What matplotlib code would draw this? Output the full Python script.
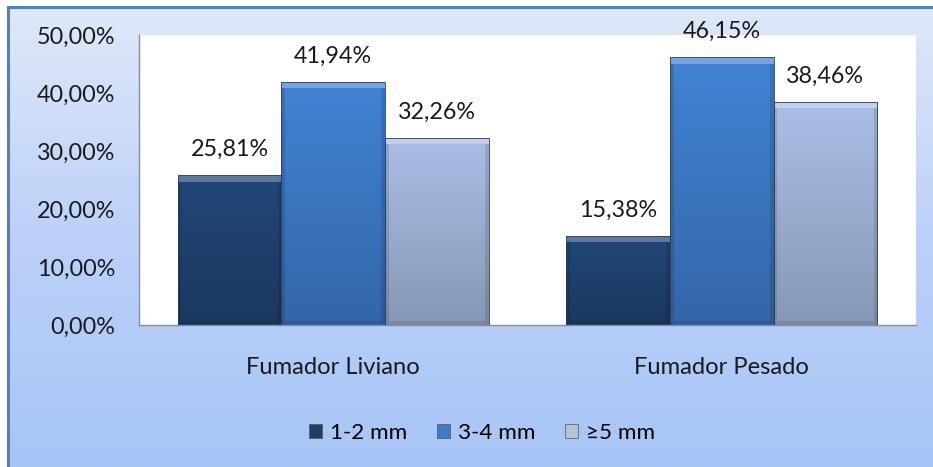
"""
Tamaño de lesión por tipo de fumador: barras agrupadas estilo Excel
"""
import numpy as np
import matplotlib
matplotlib.use("Agg")
import matplotlib.pyplot as plt
from matplotlib.colors import LinearSegmentedColormap
from matplotlib.patches import Rectangle, Patch

categories = ["Fumador Liviano", "Fumador Pesado"]
series_names = ["1-2 mm", "3-4 mm", "\u22655 mm"]
values = {
    "1-2 mm": [25.81, 15.38],
    "3-4 mm": [41.94, 46.15],
    "\u22655 mm": [32.26, 38.46],
}
yticks = [0, 10, 20, 30, 40, 50]

# (top colour, bottom colour) for each series
shades = [("#22477a", "#1b385e"), ("#4283d4", "#3466a8"), ("#abbfe6", "#8797b5")]
legend_colors = ["#1f3e66", "#3d7cc9", "#b4c2dc"]

plt.rcParams["font.family"] = ["Lato", "DejaVu Sans"]

W, H = 933, 467
fig = plt.figure(figsize=(W / 100, H / 100), dpi=100)
fig.patch.set_facecolor("white")


def fit_size(text, target_px):
    # font size that gives the text the wanted width in pixels
    t = fig.text(0, 0, text, fontsize=10)
    w = t.get_window_extent(fig.canvas.get_renderer()).width
    t.remove()
    return 10 * target_px / w


FS_NUM = fit_size("50,00%", 78)
FS_CAT = fit_size("Fumador Liviano", 174)
FS_LEG = fit_size("1-2 mm", 77)

# outer chart area with vertical gradient and blue frame
bg = fig.add_axes([8 / W, 0, 1 - 8 / W, 1 - 7 / H], zorder=0)
grad = np.linspace(0, 1, 256).reshape(-1, 1)
bg_cmap = LinearSegmentedColormap.from_list("bg", ["#dfe8f9", "#bcd1f8", "#a8c5f7"])
bg.imshow(grad, cmap=bg_cmap, aspect="auto", extent=[0, 1, 0, 1], origin="upper")
bg.set_xlim(0, 1)
bg.set_ylim(0, 1)
bg.set_xticks([])
bg.set_yticks([])
for side in ["left", "top"]:
    bg.spines[side].set_color("#4f81bd")
    bg.spines[side].set_linewidth(2.2)
for side in ["right", "bottom"]:
    bg.spines[side].set_visible(False)

ax = fig.add_axes([139 / W, (H - 325) / H, (916 - 139) / W, 290 / H], zorder=1)
ax.set_facecolor("white")

x = np.arange(len(categories))
bw = 0.8 / 3
for i, name in enumerate(series_names):
    top_c, bot_c = shades[i]
    cmap = LinearSegmentedColormap.from_list(name, [top_c, bot_c])
    bars = ax.bar(x + (i - 1) * bw, values[name], width=bw, color="none",
                  edgecolor="#2b3f5c", linewidth=0.6, zorder=3)
    for b, v in zip(bars, values[name]):
        x0, w = b.get_x(), b.get_width()
        im = ax.imshow(grad, cmap=cmap, aspect="auto", origin="upper",
                       extent=[x0, x0 + w, 0, v], zorder=2)
        im.set_clip_path(b)
        # bevel: light top strip, darker sides and bottom
        ax.add_patch(Rectangle((x0, v - 1.1), w, 1.1,
                               color="white", alpha=0.28, lw=0, zorder=2.5))
        ax.add_patch(Rectangle((x0, 0), w * 0.035, v - 1.1,
                               color="black", alpha=0.12, lw=0, zorder=2.5))
        ax.add_patch(Rectangle((x0 + w * 0.965, 0), w * 0.035, v - 1.1,
                               color="black", alpha=0.12, lw=0, zorder=2.5))
        ax.add_patch(Rectangle((x0 + w * 0.035, 0), w * 0.93, 0.7,
                               color="black", alpha=0.10, lw=0, zorder=2.5))
        ax.text(x0 + w / 2, v + 3.3, f"{v:.2f}%".replace(".", ","),
                ha="center", va="baseline", fontsize=FS_NUM, color="#1a1a1a", zorder=4)

ax.set_xlim(-0.5, 1.5)
ax.set_ylim(0, 50)
ax.set_yticks(yticks)
ax.set_yticklabels([f"{t:.2f}%".replace(".", ",") for t in yticks], fontsize=FS_NUM)
ax.set_xticks(x)
ax.set_xticklabels(categories, fontsize=FS_CAT)
ax.tick_params(axis="both", length=0, colors="#1a1a1a")
ax.tick_params(axis="y", pad=17)
ax.tick_params(axis="x", pad=23)
for side in ["top", "right"]:
    ax.spines[side].set_visible(False)
for side in ["left", "bottom"]:
    ax.spines[side].set_color("#8c8c8c")
    ax.spines[side].set_linewidth(1.0)

handles = [Patch(facecolor=c, edgecolor="#555555", linewidth=0.5) for c in legend_colors]
fig.legend(handles, series_names, loc="center", bbox_to_anchor=(482 / W, (H - 433) / H),
           ncol=3, frameon=False, fontsize=FS_LEG, handlelength=0.6, handleheight=0.6,
           handletextpad=0.35, columnspacing=1.3)

fig.savefig("out.png", dpi=100)
